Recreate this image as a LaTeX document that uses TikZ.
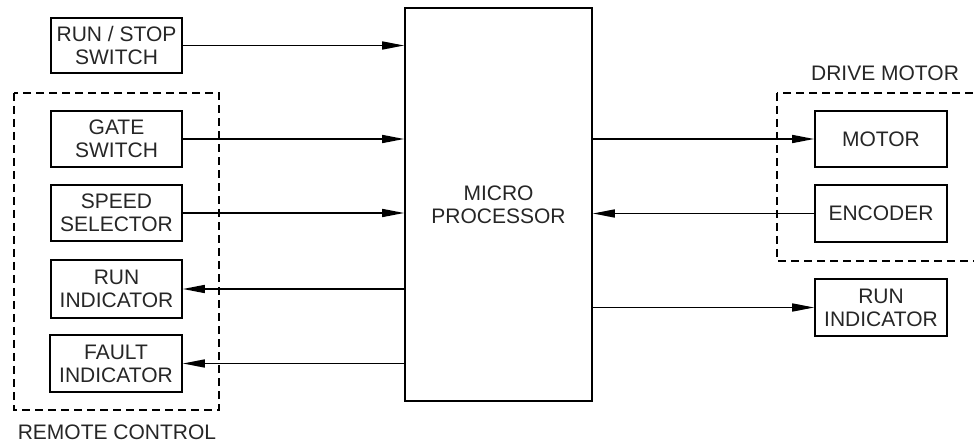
\documentclass[tikz,border=0pt]{standalone}
\usepackage{fontspec}
\setmainfont{Liberation Sans}
\usetikzlibrary{arrows.meta}
\begin{document}
\begin{tikzpicture}[x=1pt,y=-1pt,
  blk/.style={draw, line width=1.6pt, inner sep=0pt, align=center,
    font=\fontsize{21}{23}\selectfont, text=black!85},
  lbl/.style={inner sep=0pt, font=\fontsize{21}{23}\selectfont, text=black!85},
  grp/.style={draw, line width=1.4pt, dash pattern=on 8pt off 5pt},
  conn/.style={line width=1.6pt, -{Triangle[length=22pt,width=8pt]}}]
\useasboundingbox (0,0) rectangle (974,443);
\node[blk, minimum width=131pt, minimum height=55pt] (rs) at (116.5,45.5) {RUN / STOP\\SWITCH};
\node[blk, minimum width=131pt, minimum height=56pt] (gs) at (116.5,139) {GATE\\SWITCH};
\node[blk, minimum width=131pt, minimum height=56pt] (ss) at (116.5,213) {SPEED\\SELECTOR};
\node[blk, minimum width=131pt, minimum height=58pt] (ril) at (116.5,289) {RUN\\INDICATOR};
\node[blk, minimum width=132pt, minimum height=57pt] (fi) at (116,363.5) {FAULT\\INDICATOR};
\node[blk, minimum width=187pt, minimum height=393pt] (mp) at (498.5,204.5) {MICRO\\PROCESSOR};
\node[blk, minimum width=132pt, minimum height=56pt] (mo) at (881,139) {MOTOR};
\node[blk, minimum width=132pt, minimum height=57pt] (en) at (881,213.5) {ENCODER};
\node[blk, minimum width=132pt, minimum height=57pt] (rir) at (881,307.5) {RUN\\INDICATOR};
\draw[grp] (14,93) rectangle (219,410);
\draw[grp] (777,93) rectangle (980,261);
\node[lbl] (rc) at (117,432) {REMOTE CONTROL};
\node[lbl] (dm) at (885,73) {DRIVE MOTOR};
\draw[conn] (rs.east) -- (rs.east -| mp.west);
\draw[conn] (gs.east) -- (gs.east -| mp.west);
\draw[conn] (ss.east) -- (ss.east -| mp.west);
\draw[conn] (mp.west |- ril.east) -- (ril.east);
\draw[conn] (mp.west |- fi.east) -- (fi.east);
\draw[conn] (mp.east |- mo.west) -- (mo.west);
\draw[conn] (en.west) -- (en.west -| mp.east);
\draw[conn] (mp.east |- rir.west) -- (rir.west);
\end{tikzpicture}
\end{document}
